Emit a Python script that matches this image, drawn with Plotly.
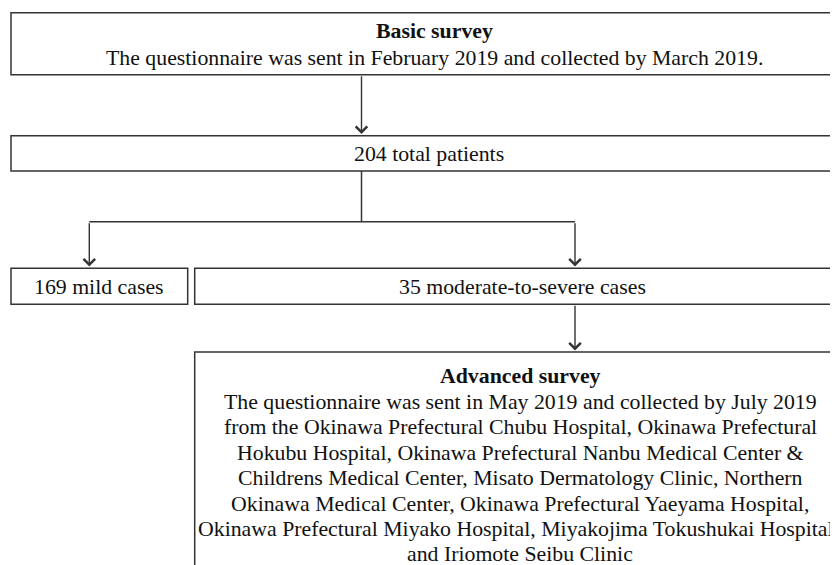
import plotly.graph_objects as go

# ---- data ----
total_patients = 204
mild_cases = 169
moderate_severe_cases = 35

basic_title = "Basic survey"
basic_text = "The questionnaire was sent in February 2019 and collected by March 2019."
advanced_title = "Advanced survey"
advanced_lines = [
    "The questionnaire was sent in May 2019 and collected by July 2019",
    "from the Okinawa Prefectural Chubu Hospital, Okinawa Prefectural",
    "Hokubu Hospital, Okinawa Prefectural Nanbu Medical Center &",
    "Childrens Medical Center, Misato Dermatology Clinic, Northern",
    "Okinawa Medical Center, Okinawa Prefectural Yaeyama Hospital,",
    "Okinawa Prefectural Miyako Hospital, Miyakojima Tokushukai Hospital",
    "and Iriomote Seibu Clinic",
]

W, H = 838, 565
OFF = 8  # page body margin
FONT = "Liberation Serif, Times New Roman, serif"
LINE = "#333333"
FS = 21.8

fig = go.Figure()

boxes = {
    "basic": (11, 12.7, 930, 74.7),
    "total": (11, 135.7, 930, 171),
    "mild": (11, 268.3, 187.7, 304.3),
    "mod": (194.7, 268.3, 930, 304.3),
    "adv": (194.7, 352, 930, 600),
}
shapes = []
for b in boxes.values():
    shapes.append(dict(type="rect", xref="x", yref="y", x0=b[0], y0=b[1], x1=b[2], y1=b[3],
                       line=dict(color=LINE, width=1.5), fillcolor="rgba(0,0,0,0)"))

shapes.append(dict(type="line", x0=361.5, y0=171, x1=361.5, y1=221.7, line=dict(color=LINE, width=1.5)))
shapes.append(dict(type="line", x0=89.3, y0=221.7, x1=575, y1=221.7, line=dict(color=LINE, width=1.5)))

arrows = [
    (361.5, 74.7, 361.5, 134),
    (89.3, 221.7, 89.3, 266.5),
    (575, 221.7, 575, 266.5),
    (575, 304.3, 575, 350.5),
]
annotations = []
for x0, y0, x1, y1 in arrows:
    annotations.append(dict(x=x1, y=y1, ax=x0, ay=y0, xref="x", yref="y", axref="x", ayref="y",
                            text="", showarrow=True, arrowhead=4, arrowsize=1.6, arrowwidth=1.4,
                            arrowcolor=LINE))

def txt(x, y, s, size=FS, bold=False):
    annotations.append(dict(x=x, y=y, xref="x", yref="y", text=(f"<b>{s}</b>" if bold else s),
                            showarrow=False, xanchor="center", yanchor="middle",
                            font=dict(family=FONT, size=size, color="#111111")))

txt(434, 30.5, basic_title, bold=True)
txt(434, 57.5, basic_text)
txt(429, 154, f"{total_patients} total patients")
txt(99, 286.5, f"{mild_cases} mild cases")
txt(522, 286.5, f"{moderate_severe_cases} moderate-to-severe cases")
txt(520, 376, advanced_title, bold=True)
ys = [402, 427.4, 452.8, 478.2, 503.6, 529, 554]
for y, s in zip(ys, advanced_lines):
    txt(516 if s.startswith("Okinawa Prefectural Miyako") else 520, y, s)

fig.update_layout(
    width=W, height=H, margin=dict(l=0, r=0, t=0, b=0),
    paper_bgcolor="white", plot_bgcolor="white",
    xaxis=dict(range=[OFF, W + OFF], visible=False, fixedrange=True),
    yaxis=dict(range=[H + OFF, OFF], visible=False, fixedrange=True),
    shapes=shapes, annotations=annotations, showlegend=False,
)
fig.write_html("out.html", config={"displayModeBar": False})
